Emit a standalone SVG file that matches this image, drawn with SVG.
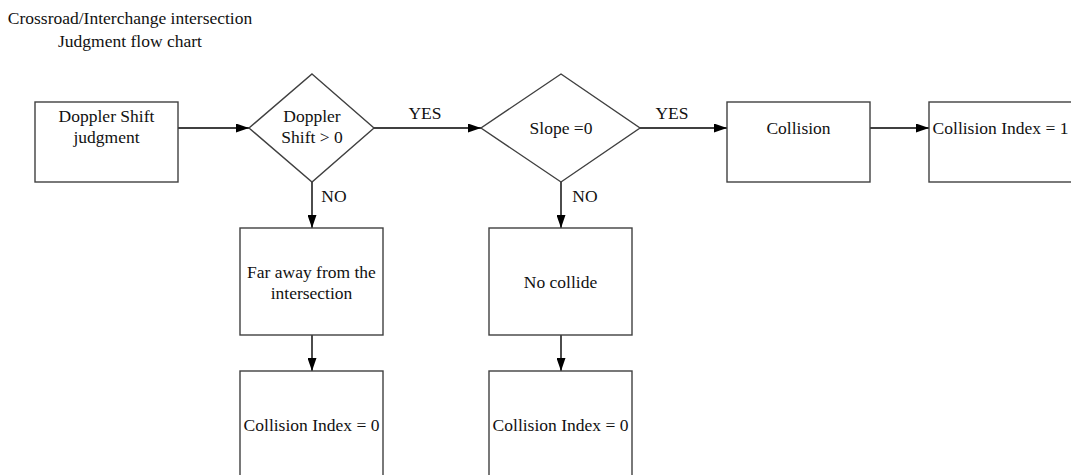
<svg xmlns="http://www.w3.org/2000/svg" width="1071" height="475" viewBox="0 0 1071 475">
<defs>
<marker id="arr" viewBox="0 0 13 9" refX="13" refY="4.5" markerWidth="13" markerHeight="9" markerUnits="userSpaceOnUse" orient="auto">
<path d="M0,0 L13,4.5 L0,9 Z" fill="#000"/>
</marker>
</defs>
<style>
.shape{fill:#fff;stroke:#404040;stroke-width:1.4}
.conn{fill:none;stroke:#000;stroke-width:1.4;marker-end:url(#arr)}
text{font-family:"Liberation Serif","Times New Roman",serif;font-size:17.5px;fill:#111;text-anchor:middle}
</style>
<rect width="1071" height="475" fill="#fff"/>
<g id="title">
<text x="130" y="24">Crossroad/Interchange intersection</text>
<text x="130" y="47">Judgment flow chart</text>
</g>
<g id="connectors">
<line class="conn" x1="178" y1="128" x2="249" y2="128"/>
<line class="conn" x1="374" y1="128" x2="481" y2="128"/>
<line class="conn" x1="640" y1="128" x2="727" y2="128"/>
<line class="conn" x1="870" y1="128" x2="929" y2="128"/>
<line class="conn" x1="312" y1="182" x2="312" y2="228"/>
<line class="conn" x1="561" y1="182" x2="561" y2="228"/>
<line class="conn" x1="312" y1="335" x2="312" y2="371"/>
<line class="conn" x1="561" y1="335" x2="561" y2="371"/>
<text x="425" y="119">YES</text>
<text x="672" y="119">YES</text>
<text x="334" y="202">NO</text>
<text x="585" y="202">NO</text>
</g>
<g id="n-doppler-judgment">
<rect class="shape" x="35" y="102" width="143" height="80"/>
<text x="106.5" y="122">Doppler Shift</text>
<text x="106.5" y="143">judgment</text>
</g>
<g id="n-doppler-decision">
<polygon class="shape" points="312,74 374,128 312,182 249,128"/>
<text x="312" y="122">Doppler</text>
<text x="312" y="143">Shift &gt; 0</text>
</g>
<g id="n-slope-decision">
<polygon class="shape" points="561,74 640,128 561,182 481,128"/>
<text x="561" y="134">Slope =0</text>
</g>
<g id="n-collision">
<rect class="shape" x="727" y="102" width="143" height="80"/>
<text x="798.5" y="134">Collision</text>
</g>
<g id="n-index1">
<rect class="shape" x="929" y="102" width="143" height="80"/>
<text x="1000.5" y="134">Collision Index = 1</text>
</g>
<g id="n-far-away">
<rect class="shape" x="240" y="228" width="143" height="107"/>
<text x="311.5" y="278">Far away from the</text>
<text x="311.5" y="299">intersection</text>
</g>
<g id="n-no-collide">
<rect class="shape" x="489" y="228" width="143" height="107"/>
<text x="560.5" y="288">No collide</text>
</g>
<g id="n-index0-left">
<rect class="shape" x="240" y="371" width="143" height="110"/>
<text x="311.5" y="431">Collision Index = 0</text>
</g>
<g id="n-index0-right">
<rect class="shape" x="489" y="371" width="143" height="110"/>
<text x="560.5" y="431">Collision Index = 0</text>
</g>
</svg>
